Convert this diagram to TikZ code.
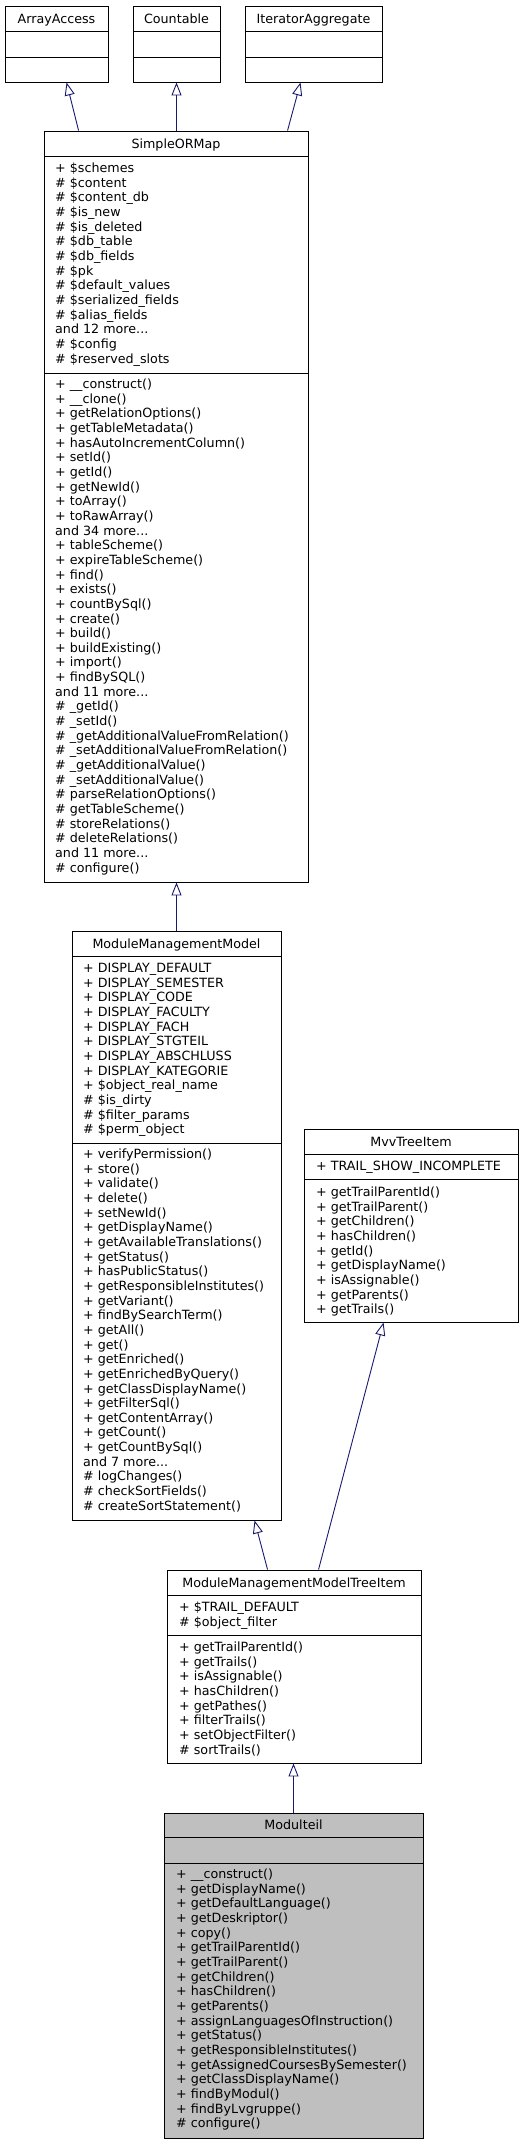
\documentclass[tikz,border=0pt]{standalone}
\usepackage{fontspec}
\setmainfont{DejaVu Sans}
\usetikzlibrary{arrows.meta,calc}
\definecolor{edgeblue}{HTML}{191970}
\definecolor{selfgray}{HTML}{BFBFBF}
\newcommand{\dfont}{\fontsize{12.7}{14}\selectfont}
\newcommand{\ddd}{...}
\tikzset{
  classnode/.style={draw=black, line width=0.9pt, inner sep=0pt, rectangle},
  sepline/.style={draw=black, line width=0.9pt},
  titletext/.style={inner sep=0pt, text height=9.2pt, text depth=0pt, font=\dfont},
  member/.style={anchor=west, inner sep=0pt, text height=9.2pt, text depth=0pt, font=\dfont},
  inherit/.style={draw=edgeblue, line width=0.9pt, -{Triangle[open, length=13pt, width=10pt]}},
}
% #1 extra style, #2 name, #3 x1, #4 y1, #5 x2, #6 y2, #7 sep1, #8 sep2, #9 title
\newcommand{\classbox}[9][]{%
  \node[classnode, #1, minimum width={#5-#3}, minimum height={#6-#4}] (#2) at ({(#3+#5)/2},{(#4+#6)/2}) {};
  \draw[sepline] (#3,#7) -- (#5,#7);
  \draw[sepline] (#3,#8) -- (#5,#8);
  \node[titletext] (#2-title) at ({(#3+#5)/2},{(#4+#7)/2}) {#9};
}
% #1 name prefix, #2 x, #3 y of first line, #4 list
\newcommand{\memberlines}[4]{%
  \foreach \t [count=\i from 0] in {#4} {
    \node[member] (#1\i) at (#2,{#3+14.65*\i}) {\t};
  }
}
\begin{document}
\begin{tikzpicture}[x=1pt,y=-1pt]
\useasboundingbox (0,0) rectangle (523,2144);

% top interfaces
\classbox{aa}{5}{6}{108}{82}{31}{57}{ArrayAccess}
\classbox{cnt}{133}{6}{220}{82}{31}{57}{Countable}
\classbox{ia}{245}{6}{382}{82}{31}{57}{IteratorAggregate}

% SimpleORMap
\classbox{smap}{44}{131}{308}{882}{156}{373}{SimpleORMap}
\memberlines{smapa}{55}{168}{+ \$schemes, \# \$content, \# \$content\_db, \# \$is\_new, \# \$is\_deleted, \# \$db\_table, \# \$db\_fields, \# \$pk, \# \$default\_values, \# \$serialized\_fields, \# \$alias\_fields, and 12 more\ddd, \# \$config, \# \$reserved\_slots}
\memberlines{smapm}{55}{384}{+ \_\_construct(), + \_\_clone(), + getRelationOptions(), + getTableMetadata(), + hasAutoIncrementColumn(), + setId(), + getId(), + getNewId(), + toArray(), + toRawArray(), and 34 more\ddd, + tableScheme(), + expireTableScheme(), + find(), + exists(), + countBySql(), + create(), + build(), + buildExisting(), + import(), + findBySQL(), and 11 more\ddd, \# \_getId(), \# \_setId(), \# \_getAdditionalValueFromRelation(), \# \_setAdditionalValueFromRelation(), \# \_getAdditionalValue(), \# \_setAdditionalValue(), \# parseRelationOptions(), \# getTableScheme(), \# storeRelations(), \# deleteRelations(), and 11 more\ddd, \# configure()}

% ModuleManagementModel
\classbox{mmm}{72}{931}{281}{1520}{956}{1143}{ModuleManagementModel}
\memberlines{mmma}{83}{968}{+ DISPLAY\_DEFAULT, + DISPLAY\_SEMESTER, + DISPLAY\_CODE, + DISPLAY\_FACULTY, + DISPLAY\_FACH, + DISPLAY\_STGTEIL, + DISPLAY\_ABSCHLUSS, + DISPLAY\_KATEGORIE, + \$object\_real\_name, \# \$is\_dirty, \# \$filter\_params, \# \$perm\_object}
\memberlines{mmmm}{83}{1154}{+ verifyPermission(), + store(), + validate(), + delete(), + setNewId(), + getDisplayName(), + getAvailableTranslations(), + getStatus(), + hasPublicStatus(), + getResponsibleInstitutes(), + getVariant(), + findBySearchTerm(), + getAll(), + get(), + getEnriched(), + getEnrichedByQuery(), + getClassDisplayName(), + getFilterSql(), + getContentArray(), + getCount(), + getCountBySql(), and 7 more\ddd, \# logChanges(), \# checkSortFields(), \# createSortStatement()}

% MvvTreeItem
\classbox{mvv}{304}{1129}{518}{1322}{1154}{1179}{MvvTreeItem}
\memberlines{mvva}{316}{1166}{+ TRAIL\_SHOW\_INCOMPLETE}
\memberlines{mvvm}{316}{1192}{+ getTrailParentId(), + getTrailParent(), + getChildren(), + hasChildren(), + getId(), + getDisplayName(), + isAssignable(), + getParents(), + getTrails()}

% ModuleManagementModelTreeItem
\classbox{mmmti}{167}{1570}{421}{1763}{1595}{1635}{ModuleManagementModelTreeItem}
\memberlines{mmmtia}{179}{1607}{+ \$TRAIL\_DEFAULT, \# \$object\_filter}
\memberlines{mmmtim}{179}{1647}{+ getTrailParentId(), + getTrails(), + isAssignable(), + hasChildren(), + getPathes(), + filterTrails(), + setObjectFilter(), \# sortTrails()}

% Modulteil
\classbox[fill=selfgray]{mt}{164}{1813}{423}{2138}{1837}{1863}{Modulteil}
\memberlines{mtm}{176}{1874}{+ \_\_construct(), + getDisplayName(), + getDefaultLanguage(), + getDeskriptor(), + copy(), + getTrailParentId(), + getTrailParent(), + getChildren(), + hasChildren(), + getParents(), + assignLanguagesOfInstruction(), + getStatus(), + getResponsibleInstitutes(), + getAssignedCoursesBySemester(), + getClassDisplayName(), + findByModul(), + findByLvgruppe(), \# configure()}

% inheritance connectors
\draw[inherit] ($(smap.north west)+(35,0)$) -- ($(aa.south west)+(62,0)$);
\draw[inherit] (smap.north -| cnt.south) -- (cnt.south);
\draw[inherit] ($(smap.north west)+(244,0)$) -- ($(ia.south west)+(56,0)$);
\draw[inherit] (mmm.north) -- (mmm.north |- smap.south);
\draw[inherit] ($(mmmti.north west)+(101,0)$) -- ($(mmm.south west)+(183,0)$);
\draw[inherit] ($(mmmti.north west)+(152,0)$) -- ($(mvv.south west)+(80,0)$);
\draw[inherit] (mt.north) -- (mt.north |- mmmti.south);
\end{tikzpicture}
\end{document}
